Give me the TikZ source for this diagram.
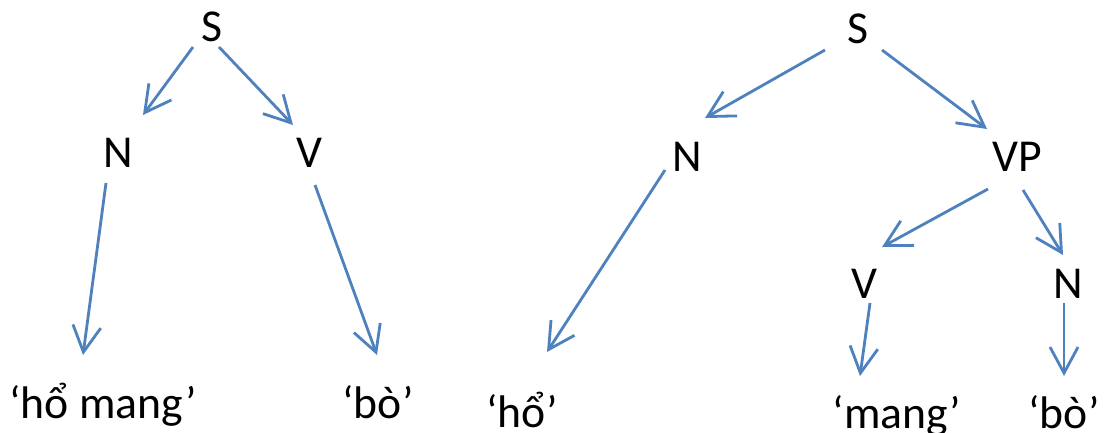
\documentclass[tikz,border=0pt]{standalone}
\usepackage{fontspec}
\setmainfont{Carlito}
\usepackage{tikz}
\usetikzlibrary{arrows.meta,calc}

\definecolor{arrowblue}{RGB}{79,129,189}

\begin{document}
\begin{tikzpicture}[
    x=0.2mm, y=-0.2mm,
    cat/.style    = {inner sep=0pt, font=\fontsize{26}{30}\selectfont},
    leaf/.style   = {cat, anchor=base},
    arr/.style    = {draw=arrowblue, line width=1.6pt,
                     -{Straight Barb[length=5.2mm, width=5.6mm]}},
]
\useasboundingbox (0,0) rectangle (1109,432);

% --- left tree: S -> N V ---
\node[cat] (s1) at (212, 27)   {S};
\node[cat] (n1) at (118, 153)  {N};
\node[cat] (v1) at (309, 153)  {V};
\node[leaf] (hm) at (103, 418) {‘hổ mang’};
\node[leaf] (b1) at (378, 418) {‘bò’};

\draw[arr] ($(s1)+(-19,20)$)  -- ($(n1)+(25,-38)$);
\draw[arr] ($(s1)+(7,20)$)    -- ($(v1)+(-16,-28)$);
\draw[arr] ($(n1)+(-12,30)$)  -- ($(hm.base)+(-20,-63)$);
\draw[arr] ($(v1)+(6,32)$)    -- ($(b1.base)+(-1,-63)$);

% --- right tree: S -> N VP, VP -> V N ---
\node[cat] (s2) at (858, 29)   {S};
\node[cat] (n2) at (687, 157)  {N};
\node[cat] (vp) at (1017, 157) {VP};
\node[cat] (v2) at (864, 284)  {V};
\node[cat] (n3) at (1068, 284) {N};
\node[leaf] (h2) at (522, 427)  {‘hổ’};
\node[leaf] (m2) at (897, 428)  {‘mang’};
\node[leaf] (b2) at (1064, 428) {‘bò’};

\draw[arr] ($(s2)+(-33,21)$)  -- ($(n2)+(18,-39)$);
\draw[arr] ($(s2)+(24,21)$)   -- ($(vp)+(-30,-28)$);
\draw[arr] ($(n2)+(-22,13)$)  -- ($(h2.base)+(25,-75)$);
\draw[arr] ($(vp)+(-29,32)$)  -- ($(v2)+(18,-37)$);
\draw[arr] ($(vp)+(6,33)$)    -- ($(n3)+(-5,-29)$);
\draw[arr] ($(v2)+(6,19)$)    -- ($(m2.base)+(-37,-52)$);
\draw[arr] ($(n3)+(-4,19)$)   -- ($(b2.base)+(0,-52)$);

\end{tikzpicture}
\end{document}
